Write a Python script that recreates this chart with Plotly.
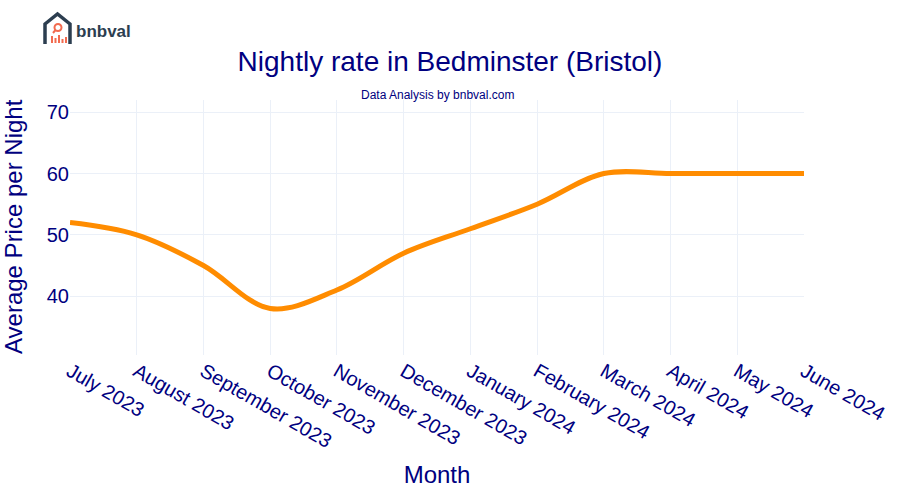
import plotly.graph_objects as go

months = ["July 2023", "August 2023", "September 2023", "October 2023", "November 2023",
          "December 2023", "January 2024", "February 2024", "March 2024", "April 2024",
          "May 2024", "June 2024"]
prices = [52, 50, 45, 38, 41, 47, 51, 55, 60, 60, 60, 60]

NAVY = "#000080"
L, R, T, B = 70, 804, 100, 355


def px(x):
    return (x - L) / (R - L)


def py(y):
    return (B - y) / (B - T)


fig = go.Figure()
fig.add_trace(go.Scatter(x=months, y=prices, mode="lines",
                         line=dict(color="#FF8C00", width=5, shape="spline")))

ymin = min(prices) * 0.8
ymax = max(prices) * 1.2

fig.update_layout(
    template="plotly_white",
    width=900, height=500,
    margin=dict(l=L, r=900 - R, t=T, b=500 - B, autoexpand=False),
    font=dict(family="Liberation Sans, Arial, sans-serif", color=NAVY),
    title=dict(text="Nightly rate in Bedminster (Bristol)", x=0.5, xanchor="center",
               yref="container", y=1 - 61 / 500, yanchor="middle",
               font=dict(size=28, color=NAVY)),
    showlegend=False,
    xaxis=dict(title=dict(text="Month", font=dict(size=24, color=NAVY), standoff=15),
               tickangle=30, tickfont=dict(size=20, color=NAVY), automargin=False,
               showgrid=True, gridcolor="#EBF0F8"),
    yaxis=dict(range=[ymin, ymax], tickvals=[40, 50, 60, 70], automargin=False,
               tickfont=dict(size=20, color=NAVY), gridcolor="#EBF0F8"),
)

fig.add_annotation(text="Average Price per Night", xref="paper", yref="paper",
                   x=px(13), y=py(227), xanchor="center", yanchor="middle",
                   textangle=-90, showarrow=False, font=dict(size=24, color=NAVY))

fig.add_annotation(text="Data Analysis by bnbval.com", xref="paper", yref="paper",
                   x=0.5, y=py(95), xanchor="center", yanchor="middle",
                   showarrow=False, font=dict(size=12, color=NAVY))

# logo
house = f"M {px(45)},{py(44)} L {px(45)},{py(24)} L {px(57.5)},{py(14)} L {px(70)},{py(24)} L {px(70)},{py(44)}"
fig.add_shape(type="path", path=house, xref="paper", yref="paper",
              line=dict(color="#2c3e50", width=3.5))
fig.add_shape(type="circle", xref="paper", yref="paper",
              x0=px(54.5), x1=px(61.5), y0=py(31), y1=py(24),
              line=dict(color="#f26b4f", width=2))
fig.add_shape(type="line", xref="paper", yref="paper",
              x0=px(55.5), x1=px(53), y0=py(30), y1=py(33),
              line=dict(color="#f26b4f", width=2))
bar_x = [51, 54.5, 58, 61.5, 65]
bar_h = [7, 5, 8, 4, 6]
for bx, bh in zip(bar_x, bar_h):
    fig.add_shape(type="rect", xref="paper", yref="paper",
                  x0=px(bx), x1=px(bx + 2), y0=py(43), y1=py(43 - bh),
                  line=dict(width=0), fillcolor="#f26b4f")
fig.add_annotation(text="<b>bnbval</b>", xref="paper", yref="paper",
                   x=px(74), y=py(31), xanchor="left", yanchor="middle",
                   showarrow=False, font=dict(size=17, color="#2c3e50",
                                              family="Liberation Sans, Arial, sans-serif"))

fig.write_html("out.html", config={"displayModeBar": False},
               post_script="document.body.style.margin='0';")
